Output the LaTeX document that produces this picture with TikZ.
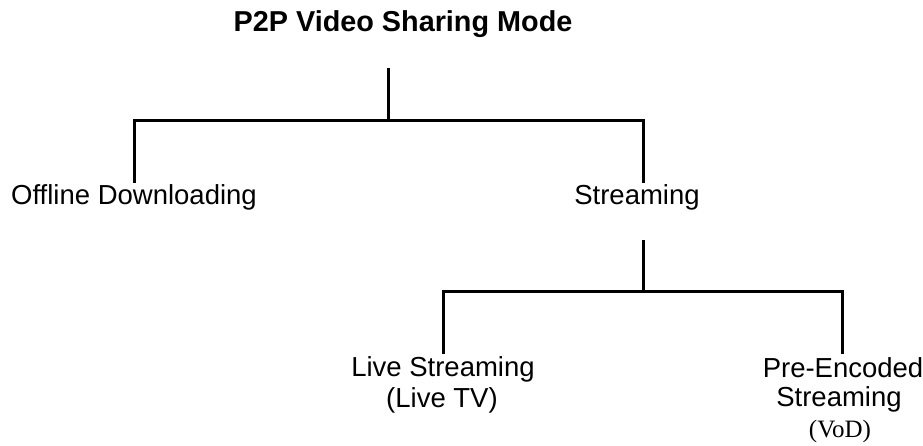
\documentclass[tikz,border=0pt]{standalone}
\usepackage{fontspec}
\setmainfont{Liberation Sans}
\newfontfamily\vodserif{Liberation Serif}
\begin{document}
\begin{tikzpicture}[x=1pt,y=1pt,
  lbl/.style={anchor=base,inner sep=0pt,font=\fontsize{27.5}{31}\selectfont},
  ttl/.style={anchor=base,inner sep=0pt,font=\fontsize{28.8}{32}\selectfont\bfseries},
  vod/.style={anchor=base,inner sep=0pt,font=\fontsize{25}{29}\selectfont\vodserif},
  conn/.style={line width=3pt,line cap=rect}]
\useasboundingbox (0,0) rectangle (923,-445);
% texts
\node[ttl] (title) at (403,-31) {P2P Video Sharing Mode};
\node[lbl] (off) at (134,-204) {Offline Downloading};
\node[lbl] (str) at (637,-204) {Streaming};
\node[lbl] (live1) at (443,-376) {Live Streaming};
\node[lbl] (live2) at (442,-407) {(Live TV)};
\node[lbl] (pre1) at (843,-377) {Pre-Encoded};
\node[lbl] (pre2) at (839,-406) {Streaming};
\node[vod] (pre3) at (840,-437) {(VoD)};
% connector points
\coordinate (t0) at (388,-69);
\coordinate (j1) at (388,-120);
\coordinate (l1) at (134,-120);
\coordinate (r1) at (643,-120);
\coordinate (lb) at (134,-181);
\coordinate (rb) at (643,-181);
\coordinate (s0) at (643,-241);
\coordinate (j2) at (643,-291);
\coordinate (l2) at (443,-291);
\coordinate (r2) at (842,-291);
\coordinate (lb2) at (443,-352);
\coordinate (rb2) at (842,-352);
% connectors
\draw[conn] (t0) -- (j1);
\draw[conn] (lb) -- (l1) -- (r1) -- (rb);
\draw[conn] (s0) -- (j2);
\draw[conn] (lb2) -- (l2) -- (r2) -- (rb2);
\end{tikzpicture}
\end{document}
